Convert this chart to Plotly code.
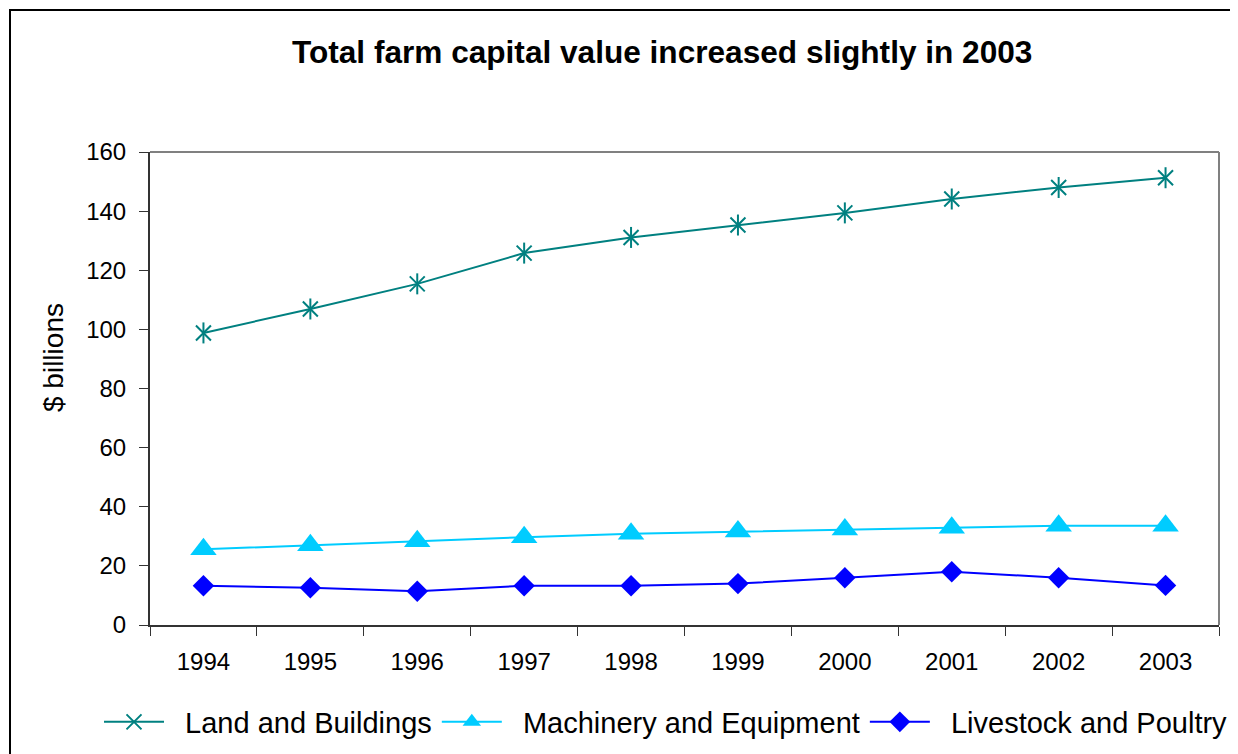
import plotly.graph_objects as go

years = ["1994", "1995", "1996", "1997", "1998", "1999", "2000", "2001", "2002", "2003"]
land_buildings = [98.8, 106.9, 115.4, 125.8, 131.1, 135.3, 139.4, 144.1, 148.0, 151.3]
machinery_equipment = [25.6, 27.0, 28.3, 29.7, 30.9, 31.6, 32.3, 32.9, 33.6, 33.6]
livestock_poultry = [13.3, 12.6, 11.4, 13.3, 13.3, 14.0, 16.0, 18.0, 16.0, 13.4]
yticks = [0, 20, 40, 60, 80, 100, 120, 140, 160]
series_names = ["Land and Buildings", "Machinery and Equipment", "Livestock and Poultry"]

FONT = "Liberation Sans, Arial, sans-serif"
OFF = 8  # page body margin offset
W, H = 1238 - OFF, 754 - OFF
L, T = 150 - OFF, 152 - OFF
R = W - (1219 - OFF)
B = H - (625 - OFF)
PW, PH = W - L - R, H - T - B


def px_x(p):
    # p: screen pixel in reference
    return (p - OFF - L) / PW


def px_y(p):
    return (H - B - (p - OFF)) / PH


NB = "\u00a0\u00a0"

fig = go.Figure()
fig.add_trace(go.Scatter(
    x=years, y=land_buildings, name=NB + series_names[0], mode="lines+markers",
    line=dict(color="#008080", width=2), legendgroup="lb",
    marker=dict(symbol="x-thin-open", size=15, color="#008080",
                line=dict(color="#008080", width=2)),
))
fig.add_trace(go.Scatter(
    x=years, y=land_buildings, mode="markers", showlegend=False, legendgroup="lb",
    hoverinfo="skip",
    marker=dict(symbol="line-ns-open", size=15, color="#008080",
                line=dict(color="#008080", width=2)),
))
fig.add_trace(go.Scatter(
    x=years, y=machinery_equipment, name=NB + series_names[1], mode="lines+markers",
    line=dict(color="#00CCFF", width=2),
    marker=dict(symbol="triangle-up", size=23, color="#00CCFF"),
))
fig.add_trace(go.Scatter(
    x=years, y=livestock_poultry, name=NB + series_names[2], mode="lines+markers",
    line=dict(color="#0000FF", width=2),
    marker=dict(symbol="diamond", size=16.5, color="#0000FF"),
))

fig.update_layout(
    width=W, height=H,
    margin=dict(l=L, r=R, t=T, b=B, autoexpand=False),
    paper_bgcolor="white", plot_bgcolor="white",
    font=dict(family=FONT, color="black", size=24),
    showlegend=True,
    legend=dict(orientation="h", x=(91 - L) / PW, xanchor="left", y=px_y(722), yanchor="middle",
                font=dict(size=29, family=FONT), itemwidth=60, bgcolor="rgba(0,0,0,0)",
                tracegroupgap=0),
    xaxis=dict(type="category", range=[-0.5, len(years) - 0.5], tickson="boundaries",
               ticks="outside", ticklen=9,
               tickcolor="#333333", showline=True, linecolor="#333333", linewidth=2,
               showgrid=False, tickfont=dict(size=24), ticklabelstandoff=14),
    yaxis=dict(range=[0, 160], tickvals=yticks, ticks="outside", ticklen=9,
               tickcolor="#333333", showline=True, linecolor="#333333", linewidth=2,
               showgrid=False, zeroline=False, tickfont=dict(size=24), ticklabelstandoff=8),
    annotations=[
        dict(text="<b>Total farm capital value increased slightly in 2003</b>",
             x=px_x(662), y=px_y(52), xref="paper", yref="paper",
             xanchor="center", yanchor="middle", showarrow=False,
             font=dict(size=31.6, family=FONT)),
        dict(text="$ billions", x=px_x(53), y=px_y(358), xref="paper", yref="paper",
             xanchor="center", yanchor="middle", textangle=-90, showarrow=False,
             font=dict(size=28, family=FONT)),
    ],
    shapes=[
        dict(type="line", xref="paper", yref="paper", x0=0, x1=1, y0=1, y1=1,
             line=dict(color="#808080", width=2)),
        dict(type="line", xref="paper", yref="paper", x0=1, x1=1, y0=0, y1=1,
             line=dict(color="#808080", width=2)),
        dict(type="rect", xref="paper", yref="paper",
             x0=px_x(10), x1=px_x(1232), y0=px_y(790), y1=px_y(10),
             line=dict(color="black", width=2), fillcolor="rgba(0,0,0,0)"),
    ],
)

fig.write_html("out.html")
